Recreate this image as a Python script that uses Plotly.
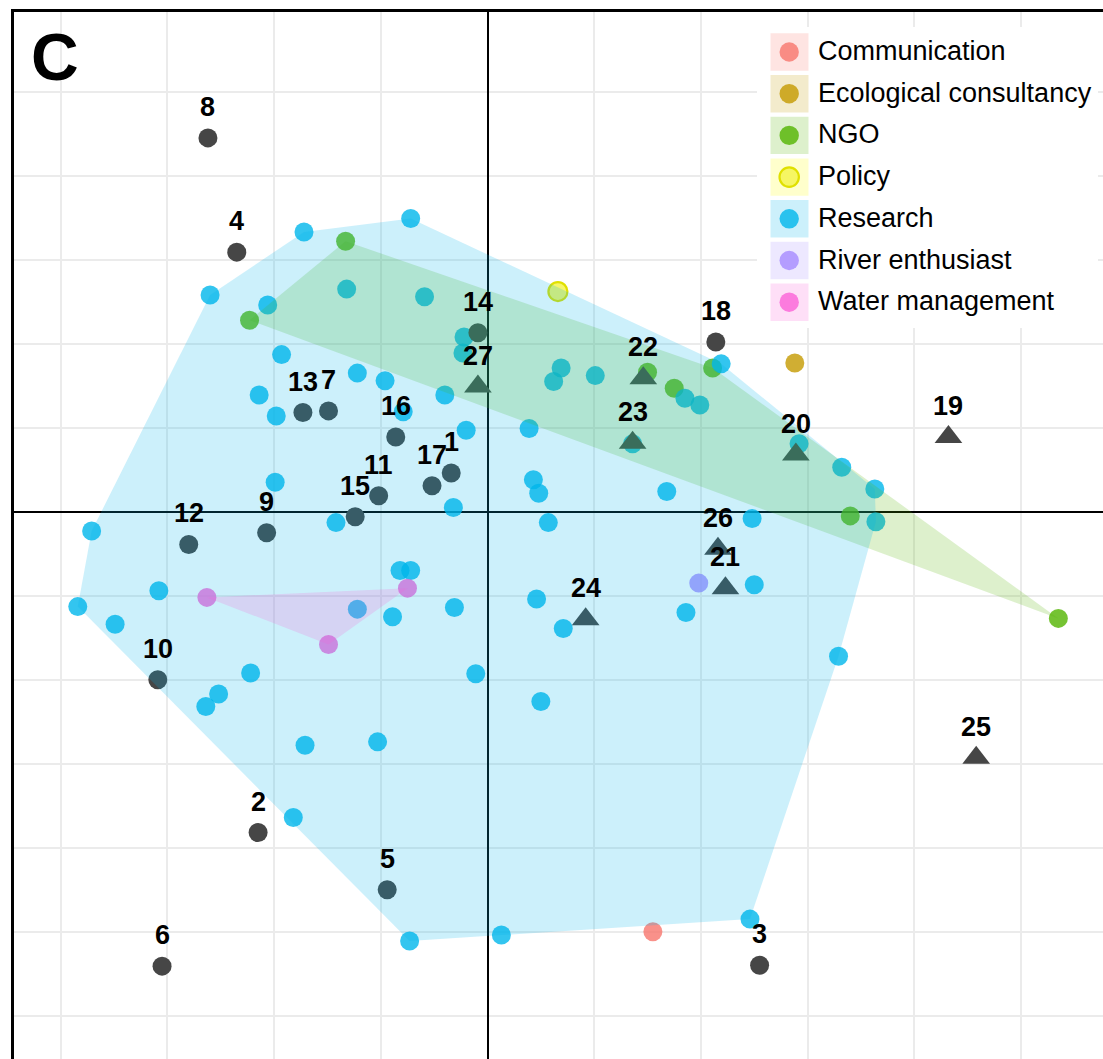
import plotly.graph_objects as go

# ---------------- data ----------------
groups = ["Communication", "Ecological consultancy", "NGO", "Policy",
          "Research", "River enthusiast", "Water management"]
group_colors = ["#F8766D", "#C49A00", "#53B400", "#FFFF00",
                "#00B6EB", "#A58AFF", "#FB61D7"]

comm_x = [1.55]
comm_y = [-5.00]
eco_x = [2.88]
eco_y = [1.77]
ngo_x = [-1.33, -2.23, 1.50, 1.75, 2.11, 3.40, 5.35]
ngo_y = [3.22, 2.28, 1.66, 1.47, 1.71, -0.05, -1.27]
policy_x = [0.66]
policy_y = [2.62]
res_x = [-0.72, -1.72, -2.60, -1.32, -0.59, -2.06, -0.22, -1.93, -0.23, -2.14,
         -1.98, -1.22, -0.96, -0.79, -0.40, -0.20, 0.39, -1.99, 0.43, 0.48,
         -0.32, -1.42, 0.57, -3.71, -0.82, -0.72, -3.08, -3.84, -3.49, -1.22,
         -0.89, -0.31, 0.46, -2.22, -0.11, -2.52, -2.64, 0.50, -1.71, -1.03,
         -1.82, -0.73, 0.13, 2.46, 0.69, 0.62, 1.01, 1.85, 1.99, 2.19,
         1.36, 2.92, 3.32, 3.63, 3.64, 1.68, 2.48, 2.50, 1.86, 0.71, 3.29]
res_y = [3.49, 3.33, 2.58, 2.65, 2.56, 2.46, 2.08, 1.87, 1.89, 1.39,
         1.14, 1.65, 1.56, 1.19, 1.39, 0.97, 0.99, 0.35, 0.38, 0.22,
         0.05, -0.13, -0.13, -0.23, -0.70, -0.70, -0.94, -1.13, -1.34, -1.16,
         -1.25, -1.14, -1.04, -1.92, -1.93, -2.17, -2.32, -2.26, -2.78, -2.74,
         -3.64, -5.11, -5.04, -4.85, 1.71, 1.55, 1.62, 1.35, 1.27, 1.76,
         0.81, 0.81, 0.53, 0.27, -0.12, 0.24, -0.08, -0.87, -1.20, -1.39, -1.72]
river_x = [1.98]
river_y = [-0.85]
water_x = [-0.75, -2.63, -1.49]
water_y = [-0.91, -1.02, -1.58]

group_x = [comm_x, eco_x, ngo_x, policy_x, res_x, river_x, water_x]
group_y = [comm_y, eco_y, ngo_y, policy_y, res_y, river_y, water_y]

# numbered (supplementary) points: 1-18 circles, 19-27 triangles
num_ids = [str(i) for i in range(1, 28)]
num_x = [-0.34, -2.15, 2.55, -2.35, -0.94, -3.05, -1.49, -2.62, -2.07, -3.09,
         -1.02, -2.80, -1.73, -0.09, -1.24, -0.86, -0.52, 2.14, 4.32, 2.89,
         2.23, 1.46, 1.36, 0.92, 4.58, 2.16, -0.09]
num_y = [0.46, -3.82, -5.40, 3.09, -4.50, -5.41, 1.20, 4.45, -0.25, -2.00,
         0.19, -0.39, 1.18, 2.13, -0.06, 0.89, 0.31, 2.02, 0.89, 0.68,
         -0.91, 1.59, 0.82, -1.28, -2.93, -0.44, 1.49]
num_shape = ["circle"] * 18 + ["triangle-up"] * 9

panel_label = "C"

# ---------------- helpers ----------------
W, H = 1103, 1059
ML, MT = 14, 12
PW, PH = W - ML, H - MT


def rgba(hexc, a):
    h = hexc.lstrip("#")
    r, g, b = int(h[0:2], 16), int(h[2:4], 16), int(h[4:6], 16)
    return f"rgba({r},{g},{b},{a})"


def hull(xs, ys):
    pts = sorted(set(zip(xs, ys)))
    if len(pts) < 3:
        return pts

    def cross(o, a, b):
        return (a[0] - o[0]) * (b[1] - o[1]) - (a[1] - o[1]) * (b[0] - o[0])
    lower, upper = [], []
    for p in pts:
        while len(lower) >= 2 and cross(lower[-2], lower[-1], p) <= 0:
            lower.pop()
        lower.append(p)
    for p in reversed(pts):
        while len(upper) >= 2 and cross(upper[-2], upper[-1], p) <= 0:
            upper.pop()
        upper.append(p)
    return lower[:-1] + upper[:-1]


def px_x(px):
    return (px - ML) / PW


def px_y(py):
    return (H - py) / PH


fig = go.Figure()

# colored points
for name, col, xs, ys in zip(groups, group_colors, group_x, group_y):
    if name == "Policy":
        marker = dict(size=19, color="rgba(245,245,80,0.85)",
                      line=dict(color="#e0e000", width=2.2))
    else:
        marker = dict(size=19, color=col, opacity=0.8, line=dict(width=0))
    fig.add_trace(go.Scatter(x=xs, y=ys, mode="markers", name=name,
                             marker=marker, showlegend=False, hoverinfo="skip"))

# numbered points
for shp, sz in (("circle", 19), ("triangle-up", 24)):
    sx = [x for x, s in zip(num_x, num_shape) if s == shp]
    sy = [y for y, s in zip(num_y, num_shape) if s == shp]
    fig.add_trace(go.Scatter(x=sx, y=sy, mode="markers",
                             marker=dict(size=sz, symbol=shp, color="#464646",
                                         line=dict(width=0)),
                             showlegend=False, hoverinfo="skip"))

# hulls (drawn over points)
for name, col, xs, ys in zip(groups, group_colors, group_x, group_y):
    if len(xs) < 3:
        continue
    hp = hull(xs, ys)
    hx = [p[0] for p in hp] + [hp[0][0]]
    hy = [p[1] for p in hp] + [hp[0][1]]
    fig.add_trace(go.Scatter(x=hx, y=hy, mode="lines", fill="toself",
                             fillcolor=rgba(col, 0.2), line=dict(width=0),
                             showlegend=False, hoverinfo="skip"))

annotations = []
font_family = "Liberation Sans, Arial, Helvetica, sans-serif"
for t, x, y in zip(num_ids, num_x, num_y):
    annotations.append(dict(x=x, y=y, xref="x", yref="y", text=f"<b>{t}</b>",
                            showarrow=False, yanchor="middle", xanchor="center",
                            yshift=31, font=dict(size=27, color="black",
                                                 family=font_family)))

annotations.append(dict(x=px_x(29), y=px_y(57), xref="paper", yref="paper",
                        text=f"<b>{panel_label}</b>", showarrow=False,
                        xanchor="left", yanchor="middle",
                        font=dict(size=66, color="black", family=font_family)))

shapes = []
# legend background
shapes.append(dict(type="rect", xref="paper", yref="paper",
                   x0=px_x(757), x1=px_x(1098), y0=px_y(328), y1=px_y(27),
                   fillcolor="white", line=dict(width=0), layer="above"))
for i, (name, col) in enumerate(zip(groups, group_colors)):
    cy = 52 + 41.7 * i
    shapes.append(dict(type="rect", xref="paper", yref="paper",
                       x0=px_x(770.5), x1=px_x(808.5),
                       y0=px_y(cy + 18.7), y1=px_y(cy - 18.7),
                       fillcolor=rgba(col, 0.2), line=dict(width=0), layer="above"))
    if name == "Policy":
        fc, lc, lw = "rgba(245,245,80,0.85)", "#e0e000", 2.2
    else:
        fc, lc, lw = rgba(col, 0.8), "rgba(0,0,0,0)", 0
    shapes.append(dict(type="circle", xref="paper", yref="paper",
                       xsizemode="pixel", ysizemode="pixel",
                       xanchor=px_x(789.2), yanchor=px_y(cy),
                       x0=-9.7, x1=9.7, y0=-9.7, y1=9.7,
                       fillcolor=fc, line=dict(color=lc, width=lw), layer="above"))
    annotations.append(dict(x=px_x(816), y=px_y(cy - 1), xref="paper", yref="paper",
                            text=name, showarrow=False, xanchor="left",
                            yanchor="middle",
                            font=dict(size=27, color="black", family=font_family)))

axis_common = dict(showticklabels=False, ticks="", tick0=0, dtick=1,
                   showgrid=True, gridcolor="#ebebeb", gridwidth=1.5,
                   zeroline=True, zerolinecolor="black", zerolinewidth=1.6,
                   showline=True, linecolor="black", linewidth=3, mirror=False,
                   fixedrange=True)

fig.update_layout(
    width=W, height=H,
    margin=dict(l=ML, r=0, t=MT, b=0, pad=0),
    paper_bgcolor="white", plot_bgcolor="white",
    xaxis=dict(range=[(ML - 487.5) / 106.7, (W - 487.5) / 106.7], side="top",
               **axis_common),
    yaxis=dict(range=[(511.7 - H) / 84.0, (511.7 - MT) / 84.0], **axis_common),
    showlegend=False,
    annotations=annotations,
    shapes=shapes,
)

fig.write_html("out.html", config={"displayModeBar": False},
               post_script="document.body.style.margin='0px';document.body.style.overflow='hidden';")
